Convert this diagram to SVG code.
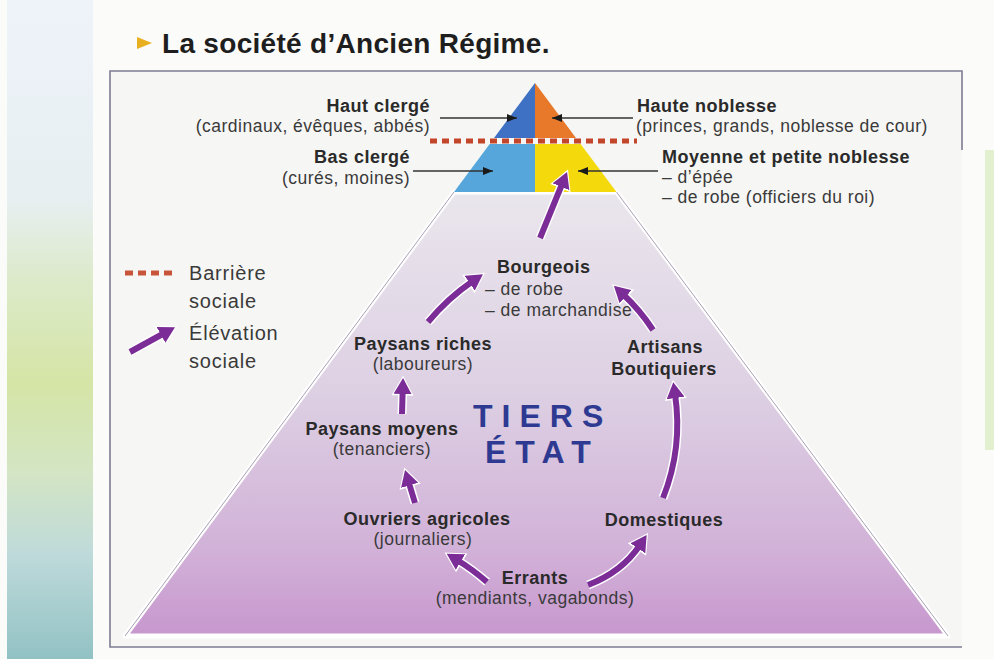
<svg xmlns="http://www.w3.org/2000/svg" width="994" height="659" viewBox="0 0 994 659">
<defs>
<linearGradient id="strip" x1="0" y1="0" x2="0" y2="659" gradientUnits="userSpaceOnUse">
<stop offset="0" stop-color="#EEF3F9"/>
<stop offset="0.3" stop-color="#E7EFF2"/>
<stop offset="0.42" stop-color="#DDEACB"/>
<stop offset="0.58" stop-color="#D5E5A6"/>
<stop offset="0.72" stop-color="#D3E5C4"/>
<stop offset="0.84" stop-color="#BFDADA"/>
<stop offset="1" stop-color="#92C2C4"/>
</linearGradient>
<linearGradient id="purp" x1="0" y1="192" x2="0" y2="636" gradientUnits="userSpaceOnUse">
<stop offset="0" stop-color="#EAE6ED"/>
<stop offset="0.45" stop-color="#DDD0E3"/>
<stop offset="0.8" stop-color="#D2B2D8"/>
<stop offset="1" stop-color="#C797CE"/>
</linearGradient>
<marker id="ah" markerUnits="userSpaceOnUse" viewBox="0 0 16 18" markerWidth="16" markerHeight="18" refX="4" refY="9" orient="auto">
<path d="M0,0 L16,9 L0,18 z" fill="#7B2C96"/>
</marker>
<marker id="ahw" markerUnits="userSpaceOnUse" viewBox="-2 -2 21 22" markerWidth="21" markerHeight="22" refX="4" refY="9" orient="auto">
<path d="M-1.5,-2 L18.5,9 L-1.5,20 z" fill="#FFFFFF"/>
</marker>
<marker id="bh" markerUnits="userSpaceOnUse" viewBox="0 0 10 8" markerWidth="10" markerHeight="8" refX="10" refY="4" orient="auto">
<path d="M0,0 L10,4 L0,8 z" fill="#1a1a1a"/>
</marker>
<style>
.b{font-family:"Liberation Sans",Arial,sans-serif;font-weight:bold;font-size:18px;letter-spacing:0.5px;fill:#2a2a2a}
.r{font-family:"Liberation Sans",Arial,sans-serif;font-size:17.5px;letter-spacing:0.5px;fill:#3a3a3a}
.lg{font-family:"Liberation Sans",Arial,sans-serif;font-size:20px;letter-spacing:0.8px;fill:#3a3a3a}
.m{text-anchor:middle}
.e{text-anchor:end}
.halo{fill:none;stroke:#FFFFFF;stroke-width:9;stroke-linecap:butt;marker-end:url(#ahw)}
.arr{fill:none;stroke:#7B2C96;stroke-width:6;stroke-linecap:butt;marker-end:url(#ah)}
.lead{fill:none;stroke:#333333;stroke-width:1.3;marker-end:url(#bh)}
.tiers{font-family:"Liberation Sans",Arial,sans-serif;font-weight:bold;font-size:32px;fill:#2E3A92;letter-spacing:9px}
</style>
</defs>

<rect x="0" y="0" width="994" height="659" fill="#FBFBFA"/>
<rect x="7" y="0" width="86" height="659" fill="url(#strip)"/>
<rect x="985" y="150" width="9" height="300" fill="#E3F0CF"/>
<rect x="110" y="71" width="852" height="576" fill="#F6F6F4"/>
<path d="M962,150 L962,71 L110,71 L110,647 L962,647" fill="none" stroke="#7C7C92" stroke-width="1.6"/>

<g id="title">
<path d="M137,37 L152,43 L137,49 z" fill="#E8B020"/>
<text x="162" y="53" font-family="'Liberation Sans',Arial,sans-serif" font-weight="bold" font-size="28" letter-spacing="0.3" fill="#1e1e1e">La société d’Ancien Régime.</text>
</g>

<g id="pyramid">
<path d="M454,192 L616.5,192 L948,636 L125,636 z" fill="url(#purp)" stroke="#FFFFFF" stroke-width="5" stroke-linejoin="round"/>
<path d="M454,192 L125,636 M616.5,192 L948,636" fill="none" stroke="#ABA0B6" stroke-width="1"/>
<path d="M535,83 L535,138 L494,138 z" fill="#3E70C4"/>
<path d="M535,83 L535,138 L576,138 z" fill="#E8792B"/>
<path d="M489.7,144 L535,144 L535,192 L454,192 z" fill="#56A6DC"/>
<path d="M535,144 L580.6,144 L616.5,192 L535,192 z" fill="#F4DA0C"/>
<line x1="430" y1="141" x2="637" y2="141" stroke="#C4462A" stroke-width="5" stroke-dasharray="7 5"/>
</g>

<g id="legend">
<line x1="125" y1="273" x2="175" y2="273" stroke="#C8553A" stroke-width="5" stroke-dasharray="8 5"/>
<text class="lg" x="189" y="280">Barrière</text>
<text class="lg" x="189" y="308">sociale</text>
<path class="halo" d="M130,352 L164.5,333"/>
<path class="arr" d="M130,352 L164.5,333"/>
<text class="lg" x="189" y="340">Élévation</text>
<text class="lg" x="189" y="368">sociale</text>
</g>

<g id="haut-clerge">
<text class="b e" x="430" y="112">Haut clergé</text>
<text class="r e" x="430" y="132">(cardinaux, évêques, abbés)</text>
</g>
<g id="bas-clerge">
<text class="b e" x="410" y="163">Bas clergé</text>
<text class="r e" x="410" y="184">(curés, moines)</text>
</g>
<g id="haute-noblesse">
<text class="b" x="637" y="112">Haute noblesse</text>
<text class="r" x="636" y="132">(princes, grands, noblesse de cour)</text>
</g>
<g id="moyenne-noblesse">
<text class="b" x="662" y="163">Moyenne et petite noblesse</text>
<text class="r" x="662" y="183">– d’épée</text>
<text class="r" x="662" y="203">– de robe (officiers du roi)</text>
</g>
<g id="bourgeois">
<text class="b" x="497" y="273">Bourgeois</text>
<text class="r" x="485" y="295">– de robe</text>
<text class="r" x="485" y="316">– de marchandise</text>
</g>
<g id="paysans-riches">
<text class="b m" x="423" y="350">Paysans riches</text>
<text class="r m" x="423" y="370">(laboureurs)</text>
</g>
<g id="paysans-moyens">
<text class="b m" x="382" y="435">Paysans moyens</text>
<text class="r m" x="382" y="455">(tenanciers)</text>
</g>
<g id="tiers-etat">
<text class="tiers" x="473" y="427">TIERS</text>
<text class="tiers" x="485" y="463">ÉTAT</text>
</g>
<g id="artisans">
<text class="b m" x="665" y="353">Artisans</text>
<text class="b m" x="664" y="375">Boutiquiers</text>
</g>
<g id="ouvriers">
<text class="b m" x="427" y="525">Ouvriers agricoles</text>
<text class="r m" x="423" y="545">(journaliers)</text>
</g>
<g id="domestiques">
<text class="b m" x="664" y="526">Domestiques</text>
</g>
<g id="errants">
<text class="b m" x="535" y="584">Errants</text>
<text class="r m" x="535" y="604">(mendiants, vagabonds)</text>
</g>

<g id="connectors">
<path class="lead" d="M440,118 L517,118"/>
<path class="lead" d="M633,118 L552,118"/>
<path class="lead" d="M413,171 L493,171"/>
<path class="lead" d="M658,171 L578,171"/>

<path class="halo" d="M487,582 Q472,569 457,560"/>
<path class="arr" d="M487,582 Q472,569 457,560"/>
<path class="halo" d="M588,585 Q622,572 640,545"/>
<path class="arr" d="M588,585 Q622,572 640,545"/>
<path class="halo" d="M415,503 L408.5,481.5"/>
<path class="arr" d="M415,503 L408.5,481.5"/>
<path class="halo" d="M402,414 L402.7,390"/>
<path class="arr" d="M402,414 L402.7,390"/>
<path class="halo" d="M428,322 Q448,298 473,281"/>
<path class="arr" d="M428,322 Q448,298 473,281"/>
<path class="halo" d="M653,330 Q640,310 622.7,294"/>
<path class="arr" d="M653,330 Q640,310 622.7,294"/>
<path class="halo" d="M663,498 Q683,448 675,394"/>
<path class="arr" d="M663,498 Q683,448 675,394"/>
<path class="halo" d="M540,238 L562.5,183"/>
<path class="arr" d="M540,238 L562.5,183"/>
</g>
</svg>
